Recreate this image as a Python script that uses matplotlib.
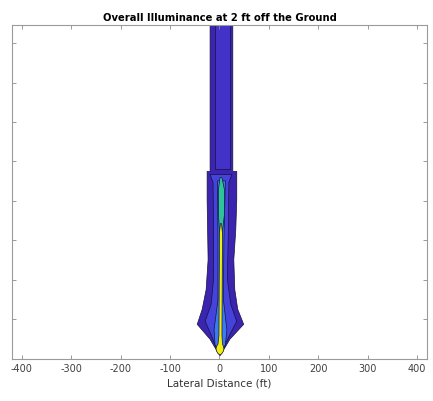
import matplotlib
matplotlib.use("Agg")
import matplotlib.pyplot as plt

# ---- data (ft): contour-band outlines ----
# level 1 (outermost, dark blue)
lvl1_y     = [430, 238, 238, 202, 164, 126, 88, 63, 44, 25, 8, 4]
lvl1_left  = [-20, -20, -26, -26, -25, -24, -28, -36, -46, -20, -4, 0]
lvl1_right = [26, 26, 34, 34, 32, 28, 30, 36, 48, 20, 4, 0]

# level 1b (slightly lighter core of upper column)
lvl1b_y     = [430, 240]
lvl1b_left  = [-10, -10]
lvl1b_right = [22, 22]

# level 2 (blue)
lvl2_y     = [234, 224, 164, 101, 69, 48, 31, 15, 10]
lvl2_left  = [-20, -14, -13, -13, -18, -30, -18, -8, 0]
lvl2_right = [24, 18, 17, 15, 22, 34, 20, 8, 0]

# level 3 (light blue)
lvl3_y     = [226, 152, 75, 37, 18, 8]
lvl3_left  = [-5, -4, -4, -12, -10, 0]
lvl3_right = [11, 8, 7, 14, 11, 0]

# level 4 (green)
lvl4_y     = [230, 215, 183, 162, 150]
lvl4_left  = [0, -3, -3, -1, 1]
lvl4_right = [4, 9, 9, 5, 3]

# level 5 (yellow)
lvl5_y     = [172, 160, 30, 19, 16, 13, 10, 7, 5]
lvl5_left  = [1, -1, -2, -4, -7, -8, -7, -4, 0]
lvl5_right = [3, 5, 4, 5, 7, 8, 7, 4, 0]

levels = [
    (lvl1_y, lvl1_left, lvl1_right, "#3a24b0"),
    (lvl1b_y, lvl1b_left, lvl1b_right, "#4232c8"),
    (lvl2_y, lvl2_left, lvl2_right, "#4444dc"),
    (lvl3_y, lvl3_left, lvl3_right, "#3a7cf0"),
    (lvl4_y, lvl4_left, lvl4_right, "#2fc39a"),
    (lvl5_y, lvl5_left, lvl5_right, "#f2ee12"),
]

x_ticks = [-400, -300, -200, -100, 0, 100, 200, 300, 400]
y_ticks = [50, 100, 150, 200, 250, 300, 350, 400]

fig = plt.figure(figsize=(4.33, 4.02), dpi=100)
ax = fig.add_axes([0.0277, 0.1057, 0.9583, 0.8293])

for ys, lx, rx, col in levels:
    ax.fill_betweenx(ys, lx, rx, facecolor=col, edgecolor="#15123a", linewidth=0.5)

ax.set_xlim(-420, 420)
ax.set_ylim(0, 423)
ax.set_xticks(x_ticks)
ax.set_xticklabels([str(v) for v in x_ticks])
ax.set_yticks(y_ticks)
ax.set_yticklabels([])
ax.tick_params(direction="in", length=3, width=0.6, color="#8a8a8a",
               labelsize=7, labelcolor="#404040", top=True, right=True)
for s in ax.spines.values():
    s.set_color("#9a9a9a")
    s.set_linewidth(0.8)

ax.set_xlabel("Lateral Distance (ft)", fontsize=7.5, color="#333333", labelpad=3)
ax.set_title("Overall Illuminance at 2 ft off the Ground", fontsize=7.2,
             fontweight="bold", pad=4)

fig.savefig("out.png", dpi=100)
